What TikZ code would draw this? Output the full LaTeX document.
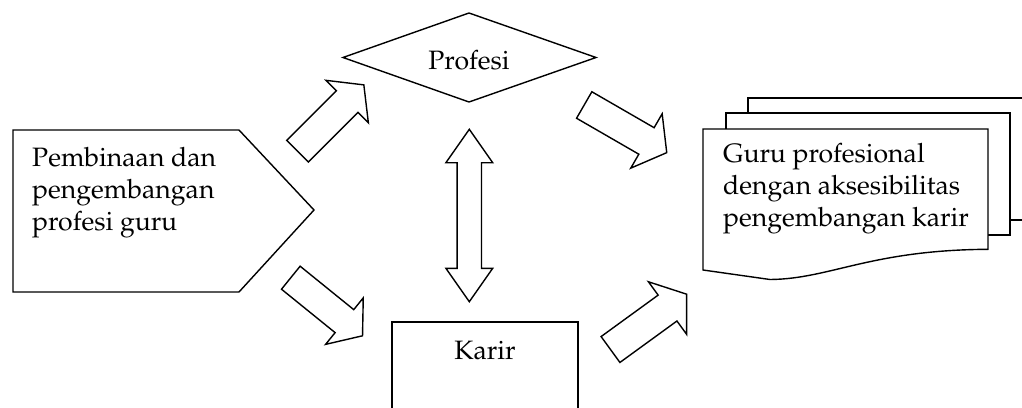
\documentclass[tikz,border=0pt]{standalone}
\usepackage[T1]{fontenc}
\usepackage{mathpazo}
\usetikzlibrary{calc}
\tikzset{
  shp/.style={draw=black, line width=1.4pt, line join=miter, fill=white},
  lbl/.style={font=\fontsize{26.6}{31.8}\selectfont, inner sep=0pt, align=left},
}
% block arrow: tail coordinate, angle, length, shaft half width, head half width, head length
\newcommand\blockarrow[6]{%
  \begin{scope}[shift={(#1)}, rotate=#2]
    \draw[shp] (0,-#4) -- ({#3-#6},-#4) -- ({#3-#6},-#5) -- (#3,0)
      -- ({#3-#6},#5) -- ({#3-#6},#4) -- (0,#4) -- cycle;
  \end{scope}}
\begin{document}
\begin{tikzpicture}[x=1pt, y=-1pt]
  \useasboundingbox (0,0) rectangle (1022,407);
  \clip (0,0) rectangle (1022,407);

  % source: pentagon
  \draw[shp] (13,130) -- (239,130) -- (314,210) -- (239,292) -- (13,292) -- cycle;
  \node[lbl, anchor=north west] (src) at (32,147.5)
    {Pembinaan dan\\pengembangan\\profesi guru};

  % Profesi: diamond
  \draw[shp] (343,57.5) -- (469,13) -- (596,57.5) -- (469,102) -- cycle;
  \node[lbl, anchor=center] (prof) at (469,60.5) {Profesi};

  % Karir: box running off the bottom
  \draw[shp] (392,430) -- (392,322) -- (578,322) -- (578,430);
  \node[lbl, anchor=center] (kar) at (485,350.5) {Karir};

  % result: stacked documents
  \draw[shp] (748,113) -- (748,98) -- (1035,98) -- (1035,220) -- (1010,220);
  \draw[shp] (726,129) -- (726,113) -- (1010,113) -- (1010,235) -- (988,235);
  \draw[shp] (703,270) -- (703,129) -- (988,129) -- (988,249.3)
    .. controls (870,250) and (830,279) .. (770,279.5) -- cycle;
  \node[lbl, anchor=north west] (res) at (723,143.5)
    {Guru profesional\\dengan aksesibilitas\\pengembangan karir};

  % block arrows
  \coordinate (a1) at (297.5,151.2);
  \coordinate (a2) at (584.2,105);
  \coordinate (a3) at (290.8,277.7);
  \coordinate (a4) at (610.5,349.5);
  \blockarrow{a1}{45}{93.8}{15.3}{29.9}{23.5}
  \blockarrow{a2}{-30}{95.3}{15.3}{31.4}{23.4}
  \blockarrow{a3}{-39}{92.3}{14.8}{29.9}{23.3}
  \blockarrow{a4}{36}{94.1}{16}{32.5}{23.6}

  % two-way arrow between Profesi and Karir
  \coordinate (dt) at (469.3,129.3);
  \coordinate (db) at (469.3,301.7);
  \draw[shp] (dt) -- ($(dt)+(23.4,33.4)$) -- ($(dt)+(12.2,33.4)$)
    -- ($(db)+(12.2,-33.4)$) -- ($(db)+(23.4,-33.4)$) -- (db)
    -- ($(db)+(-23.4,-33.4)$) -- ($(db)+(-12.2,-33.4)$)
    -- ($(dt)+(-12.2,33.4)$) -- ($(dt)+(-23.4,33.4)$) -- cycle;
\end{tikzpicture}
\end{document}
